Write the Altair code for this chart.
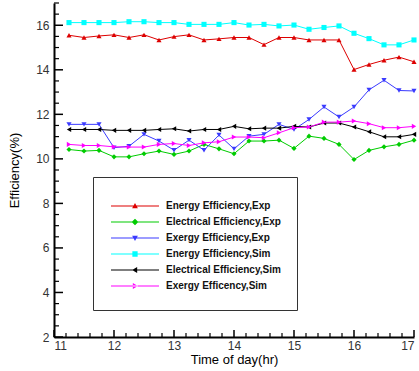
import altair as alt
import pandas as pd

# Time of day (hr) for every sample
time_hr = [11.25, 11.5, 11.75, 12.0, 12.25, 12.5, 12.75, 13.0, 13.25, 13.5, 13.75, 14.0,
           14.25, 14.5, 14.75, 15.0, 15.25, 15.5, 15.75, 16.0, 16.25, 16.5, 16.75, 17.0]

energy_exp = [15.55, 15.45, 15.52, 15.57, 15.45, 15.57, 15.34, 15.49, 15.57, 15.34, 15.39, 15.45,
              15.45, 15.13, 15.45, 15.45, 15.34, 15.34, 15.34, 14.01, 14.24, 14.43, 14.57, 14.36]
electrical_exp = [10.42, 10.35, 10.38, 10.09, 10.09, 10.23, 10.35, 10.20, 10.35, 10.65, 10.45, 10.23,
                  10.80, 10.80, 10.84, 10.47, 11.02, 10.92, 10.65, 9.97, 10.38, 10.54, 10.65, 10.84]
exergy_exp = [11.55, 11.55, 11.55, 10.50, 10.57, 11.10, 10.80, 10.39, 10.84, 10.39, 11.07, 10.45,
              11.02, 11.10, 11.55, 11.32, 11.77, 12.33, 11.88, 12.33, 13.10, 13.53, 13.07, 13.05]
energy_sim = [16.12, 16.12, 16.12, 16.12, 16.16, 16.16, 16.12, 16.12, 16.04, 16.04, 16.04, 16.12,
              16.01, 16.04, 15.97, 16.01, 15.82, 15.90, 15.97, 15.64, 15.40, 15.12, 15.12, 15.34]
electrical_sim = [11.32, 11.32, 11.32, 11.28, 11.28, 11.28, 11.32, 11.35, 11.25, 11.32, 11.32, 11.46,
                  11.35, 11.38, 11.38, 11.46, 11.43, 11.61, 11.61, 11.43, 11.22, 10.99, 10.99, 11.10]
exergy_sim = [10.65, 10.60, 10.60, 10.54, 10.53, 10.53, 10.65, 10.69, 10.60, 10.72, 10.77, 10.98,
              10.98, 10.95, 11.17, 11.40, 11.43, 11.65, 11.65, 11.70, 11.58, 11.40, 11.40, 11.46]

series_names = ["Energy Efficiency,Exp", "Electrical Efficiency,Exp", "Exergy Efficiency,Exp",
                "Energy Efficiency,Sim", "Electrical Efficiency,Sim", "Exergy Efficency,Sim"]
series_values = [energy_exp, electrical_exp, exergy_exp, energy_sim, electrical_sim, exergy_sim]
series_colors = ["#dd0000", "#00cc00", "#3a3aff", "#00ffff", "#000000", "#ff00ff"]
series_shapes = ["triangle-up", "diamond", "triangle-down", "square", "triangle-left", "triangle-right"]

# Legend glyphs: a short line with the series marker in its middle
bar = "M-1,-0.022H1V0.022H-1Z"
legend_glyphs = [
    bar + "M0,-0.12L0.12,0.09L-0.12,0.09Z",
    bar + "M0,-0.14L0.14,0L0,0.14L-0.14,0Z",
    bar + "M-0.12,-0.09L0.12,-0.09L0,0.12Z",
    bar + "M-0.11,-0.11H0.11V0.11H-0.11Z",
    bar + "M-0.12,0L0.09,-0.12L0.09,0.12Z",
    bar + "M0.12,0L-0.09,-0.12L-0.09,0.12Z",
]

x_labels = [11, 12, 13, 14, 15, 16, 17]
y_labels = [2, 4, 6, 8, 10, 12, 14, 16]
x_minor = [11.2, 11.4, 11.6, 11.8, 12.2, 12.4, 12.6, 12.8, 13.2, 13.4, 13.6, 13.8,
           14.2, 14.4, 14.6, 14.8, 15.2, 15.4, 15.6, 15.8, 16.2, 16.4, 16.6, 16.8]
y_minor = [2.5, 3, 3.5, 4.5, 5, 5.5, 6.5, 7, 7.5, 8.5, 9, 9.5, 10.5, 11, 11.5,
           12.5, 13, 13.5, 14.5, 15, 15.5, 16.5, 17]

W, H = 360, 334

rows = []
for name, vals in zip(series_names, series_values):
    for t, v in zip(time_hr, vals):
        rows.append({"time": t, "value": v, "series": name})
df = pd.DataFrame(rows)

x_enc = alt.X("time:Q", scale=alt.Scale(domain=[11, 17], nice=False, zero=False),
              axis=alt.Axis(values=x_labels, title="Time of day(hr)", format="d",
                            labelPadding=3, titlePadding=2))
y_enc = alt.Y("value:Q", scale=alt.Scale(domain=[2, 17], nice=False, zero=False),
              axis=alt.Axis(values=y_labels, title="Efficiency(%)", format="d",
                            labelPadding=5, titlePadding=14))

layers = []
for name, color, shape in zip(series_names, series_colors, series_shapes):
    sub = df[df["series"] == name]
    layers.append(alt.Chart(sub).mark_line(strokeWidth=1, color=color).encode(x=x_enc, y=y_enc))
    layers.append(alt.Chart(sub).mark_point(filled=True, size=26, opacity=1, color=color,
                                            shape=shape, strokeWidth=0).encode(x=x_enc, y=y_enc))

legend_layer = alt.Chart(df).mark_point(filled=True, opacity=0).encode(
    x=x_enc, y=y_enc,
    color=alt.Color("series:N", scale=alt.Scale(domain=series_names, range=series_colors),
                    sort=series_names, title=" "),
    shape=alt.Shape("series:N", scale=alt.Scale(domain=series_names, range=legend_glyphs),
                    sort=series_names, title=" "),
)

legend_cfg = dict(orient="none", legendX=39, legendY=174, padding=16,
                  titleFontSize=2, titlePadding=3, symbolSize=2304, clipHeight=16,
                  rowPadding=0, symbolOffset=2, labelOffset=7, symbolOpacity=1,
                  symbolStrokeWidth=0, strokeColor="#333333", fillColor="white",
                  labelFont="Liberation Sans", labelFontSize=10, labelFontWeight="bold",
                  labelColor="#111111")

# Inward-pointing axis ticks
xt_major = alt.Chart(pd.DataFrame({"time": x_labels})).mark_rule(color="black", strokeWidth=1.5).encode(
    x=x_enc, y=alt.value(H), y2=alt.value(H - 7))
xt_minor = alt.Chart(pd.DataFrame({"time": x_minor})).mark_rule(color="black", strokeWidth=1.2).encode(
    x=x_enc, y=alt.value(H), y2=alt.value(H - 4))
yt_major = alt.Chart(pd.DataFrame({"value": y_labels})).mark_rule(color="black", strokeWidth=1.5).encode(
    y=y_enc, x=alt.value(0), x2=alt.value(9))
yt_minor = alt.Chart(pd.DataFrame({"value": y_minor})).mark_rule(color="black", strokeWidth=1.2).encode(
    y=y_enc, x=alt.value(0), x2=alt.value(5))

chart = alt.layer(xt_major, xt_minor, yt_major, yt_minor, *layers, legend_layer).properties(
    width=W, height=H,
    autosize=alt.AutoSizeParams(type="none"),
    padding={"left": 54, "top": 3, "right": 5, "bottom": 34},
).configure_view(stroke=None).configure_axis(
    grid=False, domainColor="black", domainWidth=2, tickSize=0,
    labelFont="Liberation Sans", labelFontSize=12, labelColor="#333333",
    titleFont="Liberation Sans", titleFontSize=13, titleFontWeight="normal", titleColor="black",
).configure_legend(**legend_cfg)

chart.save("out.html", embed_options={"renderer": "svg", "actions": False})
